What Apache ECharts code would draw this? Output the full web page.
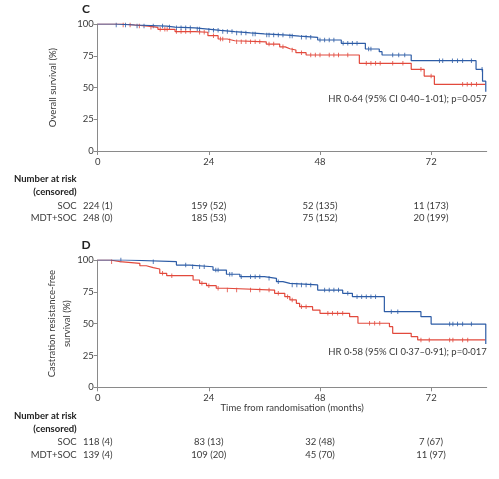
<!DOCTYPE html>
<html><head><meta charset="utf-8">
<script src="https://cdn.jsdelivr.net/npm/echarts@6/dist/echarts.min.js"></script>
<style>html,body{margin:0;padding:0;background:#fff}#c{width:499px;height:479px}</style>
</head><body><div id="c"></div>
<script>
// ---------- data ----------
const xTickValues = [0, 24, 48, 72];
const xMax = 84;
const yTickValues = [0, 25, 50, 75, 100];

// Panel C – overall survival
const cMdtTime = [0, 3.7, 8, 14.9, 16.7, 21, 23.8, 26.5, 29.6, 33, 36, 41, 43.6, 47.5, 52.6, 57.8, 60.8, 61.4, 67.7, 81.7, 83.1, 83.8];
const cMdtSurv = [100, 99.2, 98.4, 97.6, 97, 96, 95, 94, 93, 92.2, 91.3, 90.5, 89.5, 87.4, 84.8, 80.3, 78.2, 75.6, 71.1, 64.3, 55, 46.7];
const cMdtCens = [4, 6, 8.5, 10, 12, 14, 15.5, 17, 18, 19, 20, 21.5, 22, 24, 25, 26, 27, 28, 29, 30, 31, 32, 33.5, 34, 36.5, 37, 38, 39, 40, 41.5, 42, 44, 45, 46, 48, 49, 50, 51, 53, 54, 55, 56, 58.5, 59, 63.7, 65, 66.3, 73.8, 74.5, 76.6, 77.7, 78.8, 80.7, 83];
const cSocTime = [0, 5, 8, 10.9, 13, 16.7, 21, 23.8, 26, 28, 29.6, 36.4, 39.3, 40.5, 41.5, 42.8, 45, 56.5, 67.7, 70.5, 72.7, 83.7];
const cSocSurv = [100, 99.2, 98.4, 97.4, 95.8, 94, 93.5, 90.8, 88.2, 86.8, 86, 84.2, 82, 80.5, 79.5, 77.4, 75.6, 69, 64.3, 59, 52.5, 52.5];
const cSocCens = [5.5, 7, 9, 11.5, 13.5, 14.5, 15, 17, 18, 19, 20, 22, 23, 25, 26.5, 27, 28.5, 30, 31, 32, 33, 34, 35, 37, 38, 40, 42, 44, 46, 47, 48, 50, 51, 52, 54, 58, 59, 60, 61, 63.7, 65.9, 69.8, 72, 78.8, 79.8, 80.7, 81.8];
const cSocRisk = ['224 (1)', '159 (52)', '52 (135)', '11 (173)'];
const cMdtRisk = ['248 (0)', '185 (53)', '75 (152)', '20 (199)'];

// Panel D – castration resistance-free survival
const dMdtTime = [0, 5.9, 17, 19.9, 24.9, 27.8, 30.7, 36, 38.6, 40, 41.5, 47.5, 52.9, 55, 61.9, 69.8, 72, 83.8];
const dMdtSurv = [100, 98.7, 96, 94.7, 92.1, 88.8, 86.9, 85.6, 83, 81.7, 80.4, 76.4, 73.8, 71.2, 59.4, 55.5, 49.7, 34];
const dMdtCens = [5, 12, 19, 20.5, 22, 23, 25.5, 26, 28.5, 29, 31, 33, 34, 35, 37, 39, 42, 43, 44, 45, 46, 49, 50, 51, 52, 54, 56, 57, 58, 59, 60, 63.4, 64.8, 76, 76.7, 77.7, 78.8, 80.7];
const dSocTime = [0, 2.7, 4.8, 9.1, 10.5, 12, 13.4, 14.9, 20.6, 22, 23.5, 25.6, 27.8, 38.2, 40.4, 41.5, 42.9, 43.6, 46.4, 48, 54.4, 56.2, 63, 63.7, 67.7, 69.1, 83.7];
const dSocSurv = [100, 98.7, 97.4, 95.5, 94, 92.9, 89.5, 87.7, 84.3, 81.7, 79.8, 77.8, 76.4, 73.8, 71.2, 68.6, 66, 63.3, 60.7, 58.1, 55.5, 50.3, 47.6, 42.4, 39.8, 37.2, 37.2];
const dSocCens = [3, 14, 16, 22.5, 24, 26, 28, 30, 33, 35, 37, 39, 41, 42, 44, 45, 49.7, 50.7, 51.8, 52.9, 58.7, 59.8, 60.9, 69.8, 71.6, 76, 76.7, 78.8, 79.9];
const dSocRisk = ['118 (4)', '83 (13)', '32 (48)', '7 (67)'];
const dMdtRisk = ['139 (4)', '109 (20)', '45 (70)', '11 (97)'];

const groupNames = ['SOC', 'MDT+SOC'];
const cHR = 'HR 0·64 (95% CI 0·40–1·01); p=0·057';
const dHR = 'HR 0·58 (95% CI 0·37–0·91); p=0·017';

// ---------- styling ----------
const BLUE = '#2d5ca6', RED = '#e2493c';
const TXT = '#3a3a3a', AX = '#8a8a8a';
const FONT = 'Lato';

function pairs(t, s) { return t.map((v, i) => [v, s[i]]); }
function stepAt(t, s, x) { let v = s[0]; for (let i = 0; i < t.length; i++) { if (t[i] <= x) v = s[i]; } return v; }
function censPts(t, s, c) { return c.map(x => [x, stepAt(t, s, x)]); }

const chart = echarts.init(document.getElementById('c'), null, { renderer: 'canvas' });

function xAx(idx) {
  return {
    gridIndex: idx, type: 'value', min: 0, max: xMax,
    axisLine: { lineStyle: { color: AX, width: 1 } },
    axisTick: { length: 4, lineStyle: { color: AX }, customValues: xTickValues },
    axisLabel: { customValues: xTickValues, color: TXT, fontSize: 9.5, fontFamily: FONT, margin: 6 },
    splitLine: { show: false }
  };
}
function yAx(idx) {
  return {
    gridIndex: idx, type: 'value', min: 0, max: 100, interval: 25,
    axisLine: { show: true, lineStyle: { color: AX, width: 1 } },
    axisTick: { show: true, length: 4, lineStyle: { color: AX } },
    axisLabel: { color: TXT, fontSize: 9.5, fontFamily: FONT, margin: 4 },
    splitLine: { show: false }
  };
}
function lineS(idx, t, s, col) {
  return { type: 'line', xAxisIndex: idx, yAxisIndex: idx, step: 'end', data: pairs(t, s), showSymbol: false, symbol: 'none',
    lineStyle: { color: col, width: 1.2 }, itemStyle: { color: col }, animation: false, silent: true };
}
function censS(idx, t, s, c, col) {
  return { type: 'scatter', xAxisIndex: idx, yAxisIndex: idx, data: censPts(t, s, c), symbol: 'rect', symbolSize: [1, 4.5],
    itemStyle: { color: col }, animation: false, silent: true };
}

chart.setOption({
  animation: false,
  grid: [
    { left: 97.7, right: 12.3, top: 24, height: 127 },
    { left: 97.7, right: 12.3, top: 260, height: 127.3 }
  ],
  xAxis: [xAx(0), xAx(1)],
  yAxis: [yAx(0), yAx(1)],
  series: [
    lineS(0, cSocTime, cSocSurv, RED), censS(0, cSocTime, cSocSurv, cSocCens, RED),
    lineS(0, cMdtTime, cMdtSurv, BLUE), censS(0, cMdtTime, cMdtSurv, cMdtCens, BLUE),
    lineS(1, dSocTime, dSocSurv, RED), censS(1, dSocTime, dSocSurv, dSocCens, RED),
    lineS(1, dMdtTime, dMdtSurv, BLUE), censS(1, dMdtTime, dMdtSurv, dMdtCens, BLUE)
  ]
});

function txt(text, x, y, opt) {
  opt = opt || {};
  return {
    type: 'text', x: x, y: y, rotation: opt.rot || 0, silent: true,
    style: { text: text, fill: opt.fill || TXT, font: (opt.weight || 'normal') + ' ' + (opt.size || 9.5) + 'px ' + FONT,
      align: opt.align || 'left', verticalAlign: opt.va || 'middle', lineHeight: opt.lh || 12 }
  };
}

const g = [];
const px = (idx, v) => chart.convertToPixel({ xAxisIndex: idx }, v);
const labelRight = 76.7;
const panels = [
  { idx: 0, letter: 'C', letterY: 9, yTitle: 'Overall survival (%)', yTitleX: 52.7, hr: cHR, hrY: 99,
    risk: [cSocRisk, cMdtRisk], hdrY: [179.3, 191.7], rowY: [205.7, 218.3], xTitle: null },
  { idx: 1, letter: 'D', letterY: 245, yTitle: 'Castration resistance-free\nsurvival (%)', yTitleX: 59.5, hr: dHR, hrY: 352.3,
    risk: [dSocRisk, dMdtRisk], hdrY: [416.3, 429], rowY: [442.3, 454.7], xTitle: 'Time from randomisation (months)', xTitleY: 408 }
];
panels.forEach(p => {
  const top = chart.convertToPixel({ yAxisIndex: p.idx }, 100);
  const bot = chart.convertToPixel({ yAxisIndex: p.idx }, 0);
  g.push(txt(p.letter, 86, p.letterY, { weight: 'bold', size: 12, fill: '#222', align: 'center' }));
  g.push(txt(p.yTitle, p.yTitleX, (top + bot) / 2, { rot: Math.PI / 2, align: 'center', lh: 15 }));
  g.push(txt(p.hr, px(p.idx, xMax), p.hrY, { align: 'right' }));
  if (p.xTitle) g.push(txt(p.xTitle, (px(p.idx, 0) + px(p.idx, xMax)) / 2, p.xTitleY, { align: 'center' }));
  g.push(txt('Number at risk', labelRight, p.hdrY[0], { weight: 'bold', align: 'right', fill: '#222' }));
  g.push(txt('(censored)', labelRight, p.hdrY[1], { weight: 'bold', align: 'right', fill: '#222' }));
  p.risk.forEach((row, r) => {
    g.push(txt(groupNames[r], labelRight, p.rowY[r], { align: 'right' }));
    row.forEach((s, i) => g.push(txt(s, px(p.idx, xTickValues[i]), p.rowY[r], { align: 'center' })));
  });
});
chart.setOption({ graphic: g });
</script></body></html>
